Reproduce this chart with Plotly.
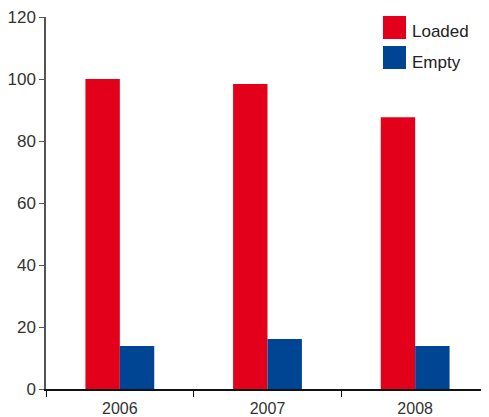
import plotly.graph_objects as go

YEARS = ["2006", "2007", "2008"]
LOADED = [100.0, 98.4, 87.7]
EMPTY = [13.9, 16.1, 13.9]

RED = "#e2001a"
BLUE = "#004494"
FONT = "Liberation Sans, Arial, sans-serif"

# page body adds an 8px offset, so the figure is sized to fit the window
W, H = 481, 409
ML, MT, MR, MB = 38, 9, 0, 28
PW, PH = W - ML - MR, H - MT - MB

fig = go.Figure()
fig.add_trace(go.Bar(x=YEARS, y=LOADED, name="Loaded", marker_color=RED, marker_line_width=0))
fig.add_trace(go.Bar(x=YEARS, y=EMPTY, name="Empty", marker_color=BLUE, marker_line_width=0))

# custom legend with big square swatches (positions in window pixels)
for i, (name, col) in enumerate([("Loaded", RED), ("Empty", BLUE)]):
    top = 16 + i * 30
    fig.add_shape(type="rect", xref="paper", yref="paper",
                  x0=(383 - 8 - ML) / PW, x1=(406 - 8 - ML) / PW,
                  y0=(H - MB - (top - 8) - 23) / PH, y1=(H - MB - (top - 8)) / PH,
                  fillcolor=col, line_width=0)
    fig.add_annotation(xref="paper", yref="paper", x=(410 - 8 - ML) / PW,
                       y=(H - MB - (top - 8) - 16) / PH,
                       text=name, showarrow=False, xanchor="left", yanchor="middle",
                       font=dict(family=FONT, size=17, color="#222"))

fig.update_layout(
    width=W, height=H,
    margin=dict(l=ML, r=MR, t=MT, b=MB),
    paper_bgcolor="white", plot_bgcolor="white",
    barmode="group", bargap=0.534, bargroupgap=0,
    showlegend=False,
    font=dict(family=FONT, size=16, color="#333"),
)
fig.update_xaxes(showline=True, linecolor="#111", linewidth=1.5, ticks="outside", ticklen=6,
                 tickcolor="#111", tickson="boundaries", showgrid=False, automargin=False,
                 ticklabelstandoff=4, ticklabeloverflow="allow", tickfont=dict(size=16, color="#333"))
fig.update_yaxes(range=[0, 120], dtick=20, showline=True, linecolor="#555", linewidth=1.5,
                 ticks="outside", ticklen=5, tickcolor="#555", showgrid=False, zeroline=False,
                 automargin=False, ticklabeloverflow="allow", tickfont=dict(size=17, color="#333"))

fig.write_html("out.html")
